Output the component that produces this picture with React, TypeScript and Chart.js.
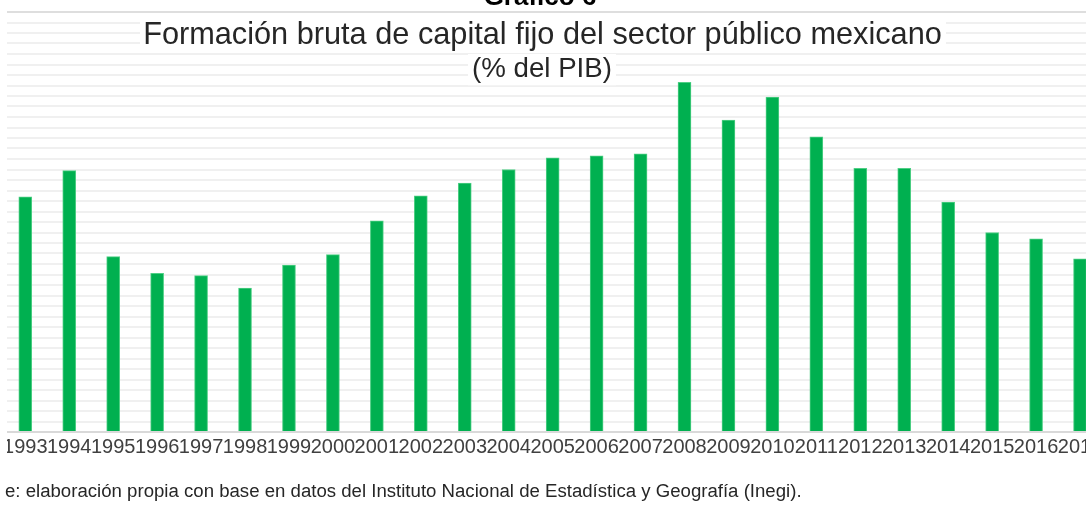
import React, { useEffect, useRef } from "react";
import { Chart, registerables } from "chart.js";

Chart.register(...registerables);

const categories = [
  "1993", "1994", "1995", "1996", "1997", "1998", "1999", "2000", "2001",
  "2002", "2003", "2004", "2005", "2006", "2007", "2008", "2009", "2010",
  "2011", "2012", "2013", "2014", "2015", "2016", "2017",
];

const values = [
  2.24, 2.49, 1.67, 1.51, 1.49, 1.37, 1.59, 1.69, 2.01,
  2.25, 2.37, 2.5, 2.61, 2.63, 2.65, 3.33, 2.97, 3.19,
  2.81, 2.51, 2.51, 2.19, 1.9, 1.84, 1.65,
];

const supTitle = "Gráfico 6";
const titleText = "Formación bruta de capital fijo del sector público mexicano";
const subtitleText = "(% del PIB)";
const sourceText =
  "Fuente: elaboración propia con base en datos del Instituto Nacional de Estadística y Geografía (Inegi).";

const yMax = 4;
const yStep = 0.1;

const FAM = "'Liberation Sans', Arial, sans-serif";

const textPlugin = {
  id: "textPlugin",
  afterDraw(chart: any) {
    const ctx = chart.ctx as CanvasRenderingContext2D;
    ctx.save();
    // cropped left margin
    ctx.fillStyle = "#ffffff";
    ctx.fillRect(0, 0, 7, 462);

    // super title (cropped at top)
    ctx.font = `bold 26px ${FAM}`;
    ctx.fillStyle = "#000000";
    ctx.textAlign = "center";
    ctx.textBaseline = "alphabetic";
    ctx.fillText(supTitle, 540, 5);

    // title
    ctx.font = `100px ${FAM}`;
    const tw = ctx.measureText(titleText).width;
    const ts = (799 / tw) * 100;
    ctx.font = `${ts}px ${FAM}`;
    const tBase = 22 + 0.716 * ts;
    ctx.fillStyle = "#ffffff";
    ctx.fillRect(140, 17, 806, tBase + 0.22 * ts - 17 + 2);
    ctx.fillStyle = "#262626";
    ctx.textAlign = "center";
    ctx.fillText(titleText, 542.5, tBase);

    // subtitle
    ctx.font = `100px ${FAM}`;
    const sw = ctx.measureText(subtitleText).width;
    const ss = (140 / sw) * 100;
    ctx.font = `${ss}px ${FAM}`;
    const sBase = 57 + 0.73 * ss;
    ctx.fillStyle = "#ffffff";
    ctx.fillRect(468, 54, 148, sBase + 0.22 * ss - 54 + 2);
    ctx.fillStyle = "#262626";
    ctx.fillText(subtitleText, 542, sBase);

    // source note (cropped at left)
    const visible = sourceText.slice(5);
    const prefix = sourceText.slice(0, 5);
    ctx.font = `100px ${FAM}`;
    const vw = ctx.measureText(visible).width;
    const ns = (797 / vw) * 100;
    ctx.font = `${ns}px ${FAM}`;
    const pw = ctx.measureText(prefix).width;
    ctx.fillStyle = "#262626";
    ctx.textAlign = "left";
    ctx.fillText(sourceText, 5 - pw, 497);
    ctx.fillStyle = "#ffffff";
    ctx.fillRect(0, 462, 5, 44);
    ctx.restore();
  },
};

export default function App() {
  const canvasRef = useRef<HTMLCanvasElement | null>(null);

  useEffect(() => {
    if (!canvasRef.current) return;
    const chart = new Chart(canvasRef.current, {
      type: "bar",
      data: {
        labels: categories,
        datasets: [
          {
            data: values,
            backgroundColor: "#00b050",
            borderColor: "#4fcf85",
            borderWidth: 1,
            barThickness: 13,
          },
        ],
      },
      options: {
        animation: false,
        responsive: true,
        maintainAspectRatio: false,
        devicePixelRatio: 1,
        layout: { padding: { left: 2, right: 8, top: 12, bottom: 0 } },
        plugins: {
          legend: { display: false },
          title: { display: false },
          tooltip: { enabled: false },
        },
        scales: {
          x: {
            grid: { display: false, drawTicks: false },
            border: { display: false },
            ticks: {
              autoSkip: false,
              maxRotation: 0,
              minRotation: 0,
              padding: 3,
              color: "#404040",
              font: { family: FAM, size: 20 },
            },
            afterFit: (scale: any) => {
              scale.height = 74;
            },
          },
          y: {
            min: 0,
            max: yMax,
            border: { display: false },
            grid: {
              drawTicks: false,
              lineWidth: 2,
              color: (c: any) => {
                const v = c.tick ? c.tick.value : 0;
                if (Math.abs(v) < 1e-9) return "#d9d9d9";
                if (Math.abs(v - yMax) < 1e-9) return "#dedede";
                return "#f0f0f0";
              },
            },
            ticks: { display: false, stepSize: yStep },
            afterFit: (scale: any) => {
              scale.width = 0;
            },
          },
        },
      },
      plugins: [textPlugin],
    });
    return () => chart.destroy();
  }, []);

  return (
    <div
      style={{
        position: "absolute",
        left: 0,
        top: 0,
        width: 1086,
        height: 506,
        overflow: "hidden",
        background: "#ffffff",
      }}
    >
      <div style={{ position: "relative", width: 1110, height: 506 }}>
        <canvas ref={canvasRef} />
      </div>
    </div>
  );
}
